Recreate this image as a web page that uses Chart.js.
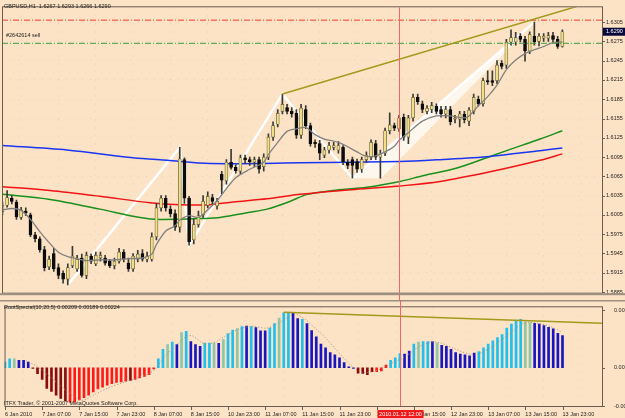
<!DOCTYPE html>
<html>
<head>
<meta charset="utf-8">
<script src="https://cdn.jsdelivr.net/npm/chart.js@4.4.0/dist/chart.umd.min.js"></script>
<style>
html, body { margin: 0; padding: 0; background: #fce3c5; }
#wrap { position: relative; width: 625px; height: 418px; overflow: hidden; background: #fce3c5; }
#main { position: absolute; left: 0; top: 0; }
#osc { position: absolute; left: 0; top: 300px; }
</style>
</head>
<body>
<div id="wrap">
  <canvas id="main" width="625" height="300"></canvas>
  <canvas id="osc" width="625" height="118"></canvas>
</div>
<script>
// GBPUSD H1, one bar per hour, bar 0 = 6 Jan 2010 23:00
const timeLabels = ['6 Jan 2010', '7 Jan 07:00', '7 Jan 15:00', '7 Jan 23:00', '8 Jan 07:00', '8 Jan 15:00',
  '10 Jan 23:00', '11 Jan 07:00', '11 Jan 15:00', '11 Jan 23:00', '12 Jan 07:00', '12 Jan 15:00',
  '12 Jan 23:00', '13 Jan 07:00', '13 Jan 15:00', '13 Jan 23:00'];
const priceTicks = [1.5885, 1.5915, 1.5945, 1.5975, 1.6005, 1.6035, 1.6065, 1.6095, 1.6125,
  1.6155, 1.6185, 1.6215, 1.6245, 1.6275, 1.6305];
const oscTicks = [-0.00249, 0, 0.00375];

const open = [1.6010,1.6020,1.6031,1.6025,1.6001,1.6011,1.6005,1.5974,1.5968,1.5951,
  1.5924,1.5945,1.5923,1.5914,1.5905,1.5926,1.5921,1.5938,1.5911,1.5941,
  1.5929,1.5938,1.5938,1.5933,1.5926,1.5933,1.5947,1.5930,1.5921,1.5936,
  1.5945,1.5936,1.5936,1.5971,1.6016,1.6031,1.6014,1.6007,1.5986,1.6091,
  1.6031,1.5966,1.5990,1.6005,1.6020,1.6032,1.6019,1.6068,1.6058,1.6087,
  1.6079,1.6073,1.6094,1.6091,1.6087,1.6091,1.6080,1.6095,1.6126,1.6146,
  1.6166,1.6172,1.6166,1.6163,1.6129,1.6169,1.6144,1.6118,1.6116,1.6098,
  1.6106,1.6110,1.6106,1.6110,1.6087,1.6091,1.6088,1.6076,1.6091,1.6095,
  1.6116,1.6095,1.6101,1.6136,1.6144,1.6139,1.6157,1.6126,1.6156,1.6188,
  1.6178,1.6166,1.6169,1.6174,1.6169,1.6162,1.6169,1.6154,1.6154,1.6162,
  1.6151,1.6166,1.6185,1.6178,1.6214,1.6214,1.6214,1.6241,1.6238,1.6274,
  1.6274,1.6283,1.6278,1.6260,1.6283,1.6275,1.6280,1.6280,1.6284,1.6278,
  1.6267];
const high = [1.6025,1.6043,1.6035,1.6028,1.6017,1.6016,1.6008,1.5978,1.5971,1.5956,
  1.5941,1.5953,1.5929,1.5918,1.5929,1.5956,1.5942,1.5944,1.5947,1.5944,
  1.5947,1.5947,1.5942,1.5936,1.5938,1.5953,1.5951,1.5938,1.5945,1.5950,
  1.5951,1.5947,1.5977,1.6023,1.6035,1.6035,1.6019,1.6013,1.6110,1.6094,
  1.6034,1.5998,1.6011,1.6035,1.6041,1.6037,1.6031,1.6073,1.6091,1.6107,
  1.6083,1.6098,1.6098,1.6095,1.6095,1.6095,1.6100,1.6131,1.6150,1.6169,
  1.6193,1.6177,1.6172,1.6169,1.6177,1.6175,1.6148,1.6122,1.6121,1.6110,
  1.6118,1.6118,1.6119,1.6113,1.6091,1.6095,1.6092,1.6095,1.6103,1.6122,
  1.6121,1.6106,1.6140,1.6164,1.6148,1.6160,1.6162,1.6160,1.6193,1.6193,
  1.6182,1.6175,1.6180,1.6178,1.6174,1.6174,1.6174,1.6160,1.6166,1.6166,
  1.6172,1.6193,1.6190,1.6218,1.6229,1.6229,1.6245,1.6245,1.6278,1.6293,
  1.6289,1.6287,1.6283,1.6290,1.6305,1.6287,1.6287,1.6289,1.6289,1.6283,
  1.6293];
const low = [1.6005,1.6017,1.6022,1.5998,1.5998,1.6004,1.5971,1.5963,1.5947,1.5918,
  1.5920,1.5917,1.5906,1.5899,1.5896,1.5923,1.5917,1.5908,1.5906,1.5929,
  1.5926,1.5933,1.5927,1.5923,1.5921,1.5930,1.5932,1.5917,1.5917,1.5932,
  1.5933,1.5932,1.5933,1.5966,1.6011,1.6011,1.6002,1.5981,1.5978,1.6023,
  1.5958,1.5960,1.5986,1.6001,1.6016,1.6022,1.6014,1.6038,1.6053,1.6076,
  1.6070,1.6068,1.6085,1.6082,1.6080,1.6070,1.6073,1.6091,1.6121,1.6142,
  1.6162,1.6162,1.6157,1.6124,1.6124,1.6139,1.6112,1.6110,1.6091,1.6094,
  1.6101,1.6106,1.6101,1.6083,1.6077,1.6062,1.6071,1.6071,1.6087,1.6091,
  1.6091,1.6062,1.6097,1.6131,1.6136,1.6135,1.6121,1.6116,1.6151,1.6177,
  1.6164,1.6162,1.6164,1.6162,1.6157,1.6156,1.6145,1.6148,1.6142,1.6148,
  1.6144,1.6162,1.6174,1.6174,1.6208,1.6206,1.6209,1.6232,1.6233,1.6269,
  1.6269,1.6274,1.6244,1.6256,1.6269,1.6268,1.6275,1.6275,1.6274,1.6264,
  1.6266];
const close = [1.6020,1.6032,1.6026,1.6002,1.6013,1.6008,1.5974,1.5968,1.5951,1.5923,
  1.5936,1.5921,1.5911,1.5905,1.5923,1.5941,1.5936,1.5911,1.5942,1.5933,
  1.5942,1.5942,1.5930,1.5926,1.5933,1.5947,1.5936,1.5921,1.5941,1.5944,
  1.5936,1.5941,1.5971,1.6016,1.6031,1.6016,1.6007,1.5986,1.6092,1.6031,
  1.5963,1.5990,1.6004,1.6026,1.6034,1.6026,1.6026,1.6059,1.6087,1.6079,
  1.6074,1.6094,1.6091,1.6088,1.6091,1.6076,1.6095,1.6126,1.6144,1.6163,
  1.6177,1.6166,1.6162,1.6129,1.6171,1.6144,1.6116,1.6116,1.6101,1.6106,
  1.6113,1.6113,1.6113,1.6088,1.6082,1.6082,1.6076,1.6091,1.6098,1.6118,
  1.6095,1.6101,1.6136,1.6145,1.6140,1.6156,1.6126,1.6156,1.6188,1.6181,
  1.6169,1.6171,1.6175,1.6166,1.6162,1.6169,1.6150,1.6156,1.6162,1.6153,
  1.6168,1.6188,1.6178,1.6214,1.6212,1.6211,1.6238,1.6236,1.6274,1.6281,
  1.6281,1.6278,1.6260,1.6286,1.6274,1.6283,1.6283,1.6284,1.6278,1.6267,
  1.6290];

// moving averages as [bar, price]
const maFast = [[0,1.6013],[2,1.6015],[4,1.6012],[6,1.5998],[8,1.5979],[10,1.5962],[12,1.5947],[14,1.5940],
  [16,1.5937],[18,1.5934],[21,1.5935],[24,1.5935],[27,1.5937],[30,1.5938],[32,1.5944],[33,1.5959],
  [35,1.5980],[37,1.5988],[38,1.5997],[40,1.6004],[42,1.6001],[44,1.6013],[46,1.6027],[48,1.6046],
  [50,1.6063],[53,1.6076],[56,1.6087],[57,1.6099],[59,1.6118],[61,1.6135],[63,1.6139],[65,1.6141],
  [67,1.6130],[69,1.6123],[72,1.6118],[74,1.6111],[76,1.6103],[78,1.6096],[80,1.6097],[82,1.6103],
  [84,1.6112],[85,1.6121],[87,1.6133],[90,1.6151],[93,1.6159],[96,1.6159],[99,1.6156],[100,1.6159],
  [102,1.6175],[104,1.6189],[106,1.6207],[108,1.6231],[110,1.6246],[112,1.6256],[114,1.6262],
  [116,1.6267],[118,1.6273],[120,1.6274]];
const maBlue = [[0,1.6113],[13.8,1.6106],[28,1.6094],[35.3,1.6090],[44.5,1.6085],[63.8,1.6086],
  [85.2,1.6088],[93.8,1.6091],[104.5,1.6096],[115.2,1.6105],[120,1.6109]];
const maRed = [[0,1.6049],[10.2,1.6043],[20.9,1.6034],[31.6,1.6024],[38,1.6021],[44.5,1.6021],
  [49.4,1.6025],[56.7,1.6030],[63.8,1.6037],[70.8,1.6042],[78.1,1.6046],[85.2,1.6050],[93.8,1.6057],
  [104.5,1.6072],[115.2,1.6090],[120,1.6100]];
const maGreen = [[0,1.6037],[10.2,1.6029],[20.9,1.6014],[29.5,1.6001],[33.8,1.5998],[44.5,1.6000],
  [46.6,1.6001],[53,1.6009],[56.7,1.6014],[61.6,1.6026],[65.3,1.6037],[70.8,1.6043],[78.1,1.6048],
  [85.2,1.6057],[90.1,1.6066],[97.4,1.6078],[104.5,1.6096],[111.6,1.6114],[115.2,1.6123],[120,1.6136]];
const zigzag = [[14,1.5896],[38,1.6110],[40,1.5958],[60,1.6193],[75,1.6062],[114,1.6305]];
const zigzagWedge = [[75,1.6062],[114,1.6305],[81,1.6062]];
const trendMain = [[60,1.6193],[128.5,1.6341]];
const stopLevel = 1.6308;
const entryLevel = 1.6272;

// RootSpecial(10,20,5) histogram, c = up strong, t = up weak, b = falling, r / m = below zero
const hist = [0.00037,0.00058,0.00058,0.00048,0.00048,0.00037,-0.00004,-0.00039,-0.00076,-0.00134,
  -0.00154,-0.00179,-0.00200,-0.00216,-0.00224,-0.00224,-0.00210,-0.00195,-0.00179,-0.00158,
  -0.00138,-0.00127,-0.00113,-0.00103,-0.00096,-0.00093,-0.00087,-0.00082,-0.00076,-0.00066,
  -0.00056,-0.00045,-0.00008,0.00058,0.00120,0.00151,0.00167,0.00151,0.00229,0.00237,
  0.00171,0.00151,0.00140,0.00161,0.00161,0.00161,0.00159,0.00183,0.00222,0.00245,
  0.00255,0.00268,0.00271,0.00268,0.00262,0.00241,0.00241,0.00258,0.00288,0.00324,
  0.00358,0.00358,0.00357,0.00320,0.00316,0.00288,0.00242,0.00201,0.00155,0.00130,
  0.00099,0.00085,0.00064,0.00033,0.00006,-0.00004,-0.00035,-0.00037,-0.00045,-0.00025,
  -0.00025,-0.00020,0.00017,0.00048,0.00064,0.00093,0.00089,0.00109,0.00155,0.00167,
  0.00171,0.00171,0.00171,0.00161,0.00146,0.00140,0.00120,0.00099,0.00089,0.00085,
  0.00078,0.00095,0.00105,0.00130,0.00155,0.00176,0.00196,0.00216,0.00258,0.00284,
  0.00305,0.00315,0.00299,0.00295,0.00290,0.00284,0.00274,0.00264,0.00253,0.00224,
  0.00209];
const histState = ('cctbbbmmmmmmmmrrrrrrrrrrrrrmrrrrr' +
  'cctcbtcbbbcctbtcctcbcbbbcctccbbcbbbbbbbbbbbmmmmrrr' +
  'cccbbctccbtbbbbbbbbccccccccccttbbbbbbbbb').split('');
const signal = [[4.5,0.00046],[6.6,0.00015],[8.8,-0.00037],[11.6,-0.00109],[14.5,-0.00181],[16.6,-0.00212],
  [19.5,-0.00171],[22.3,-0.00130],[25.2,-0.00099],[28,-0.00072],[30.9,-0.00037],[32.3,-0.00010],
  [34.5,0.00077],[36.6,0.00138],[38.8,0.00200],[40.2,0.00210],[42.3,0.00165],[43.4,0.00155],
  [45.5,0.00171],[47.7,0.00212],[50.5,0.00253],[53.4,0.00270],[56.3,0.00258],[58.4,0.00284],
  [61.3,0.00336],[62.7,0.00346],[64.8,0.00311],[66.9,0.00253],[69.1,0.00192],[71.2,0.00120],
  [73.4,0.00048],[74.8,0.00006],[76.9,-0.00031],[79.1,-0.00025],[81.2,-0.00004],[83.2,0.00030],
  [85.9,0.00068],[88.8,0.00130],[91.6,0.00167],[93.8,0.00161],[96.6,0.00126],[99.5,0.00093],
  [101.6,0.00089],[104.5,0.00130],[107.3,0.00192],[110.2,0.00264],[112.3,0.00295],[114.5,0.00290],
  [117.3,0.00270],[119.8,0.00233]];
const trendOsc = [[60,0.00361],[128.5,0.00290]];
const markerBar = 85; // 2010.01.12 12:00

const xMin = -0.1, xMax = 128.5;
const last = close.length - 1;
Chart.defaults.font.family = '"Liberation Sans", Arial, sans-serif';
Chart.defaults.font.size = 5.5;
Chart.defaults.color = '#1e1e1e';

const bgDots = { color: 'rgba(165,135,105,0.2)', drawTicks: false };
const pts = arr => arr.map(p => ({ x: p[0], y: p[1] }));
const line = (arr, color, width, order, extra) => Object.assign({
  type: 'line', data: pts(arr), borderColor: color, borderWidth: width,
  pointRadius: 0, tension: 0.3, fill: false, order: order
}, extra || {});
const isBull = close.map((c, i) => c >= open[i]);

const mainDecor = {
  id: 'mainDecor',
  afterDraw(chart) {
    const { ctx, chartArea: a, scales: { x, y } } = chart;
    ctx.save();
    ctx.strokeStyle = '#6b5d52';
    ctx.lineWidth = 1;
    ctx.strokeRect(a.left + 0.5, a.top - 0.5, a.right - a.left, a.bottom - a.top + 1);
    priceTicks.forEach(v => {
      const py = Math.round(y.getPixelForValue(v)) + 0.5;
      ctx.beginPath(); ctx.moveTo(a.right, py); ctx.lineTo(a.right + 3, py); ctx.stroke();
    });
    const mx = Math.round(x.getPixelForValue(markerBar)) + 0.5;
    ctx.strokeStyle = '#f06666';
    ctx.beginPath(); ctx.moveTo(mx, a.top); ctx.lineTo(mx, chart.height); ctx.stroke();
    ctx.fillStyle = '#9d8f82';
    ctx.fillRect(0, a.bottom + 0.5, chart.width, 2);
    ctx.font = '5.5px "Liberation Sans", Arial';
    ctx.textBaseline = 'middle';
    ctx.fillStyle = '#1a1a1a';
    const f = v => v.toFixed(4);
    ctx.fillText('GBPUSD,H1  ' + [open[last], high[last], low[last], close[last]].map(f).join(' '), 4, 6);
    ctx.fillText('#2642614 sell', 6, 35);
    const cy = y.getPixelForValue(close[last]);
    ctx.fillStyle = '#08083a';
    ctx.fillRect(a.right + 1, cy - 4, chart.width - a.right - 1, 8);
    ctx.fillStyle = '#ffffff';
    ctx.fillText(f(close[last]), a.right + 4, cy);
    ctx.restore();
  }
};

new Chart(document.getElementById('main'), {
  type: 'bar',
  data: {
    datasets: [
      line(trendMain, '#a29a1c', 1.5, 0, { tension: 0 }),
      line([[xMin, stopLevel], [xMax, stopLevel]], '#f03a2a', 1, 0, { tension: 0, borderDash: [6, 2, 1, 2] }),
      line([[xMin, entryLevel], [xMax, entryLevel]], '#3c9c3c', 1, 0, { tension: 0, borderDash: [6, 2, 1, 2] }),
      line(maFast, '#808080', 1.3, 1),
      {
        type: 'bar', order: 2, grouped: false, barThickness: 3, minBarLength: 1,
        data: open.map((o, i) => ({ x: i, y: [o, close[i]] })),
        backgroundColor: isBull.map(b => b ? '#f0df86' : '#0c0c0c'),
        borderColor: isBull.map(b => b ? '#5e5838' : '#0c0c0c'),
        borderWidth: 0.7, borderSkipped: false
      },
      {
        type: 'bar', order: 3, grouped: false, barThickness: 1,
        data: high.map((h, i) => ({ x: i, y: [low[i], h] })),
        backgroundColor: '#3a3a32'
      },
      line(maBlue, '#1a36f0', 1.5, 4),
      line(maRed, '#f01414', 1.5, 4),
      line(maGreen, '#18901c', 1.5, 4),
      line(zigzagWedge, 'rgba(255,255,255,0.8)', 1, 5, { tension: 0, fill: 'shape', backgroundColor: 'rgba(255,255,255,0.7)' }),
      line(zigzag, '#ffffff', 2.5, 5, { tension: 0 })
    ]
  },
  options: {
    responsive: false,
    animation: false,
    layout: { padding: { left: 2, top: 2, right: 0, bottom: 2 } },
    plugins: { legend: { display: false }, tooltip: { enabled: false } },
    scales: {
      x: {
        type: 'linear', min: xMin, max: xMax, offset: false,
        afterBuildTicks: s => { s.ticks = timeLabels.map((_, k) => ({ value: 8 * k })); },
        afterFit: s => { s.height = 0; },
        ticks: { display: false },
        grid: bgDots,
        border: { display: false, dash: [1, 7] }
      },
      y: {
        position: 'right', min: 1.5884, max: 1.6328,
        afterBuildTicks: s => { s.ticks = priceTicks.map(v => ({ value: v })); },
        afterFit: s => { s.width = 23; },
        ticks: { padding: 4, callback: v => v.toFixed(4) },
        grid: bgDots,
        border: { display: false, dash: [1, 7] }
      }
    }
  },
  plugins: [mainDecor]
});

const stateColors = { c: '#1ec0f0', t: '#8ec6a6', b: '#1616c4', r: '#ff1a1a', m: '#8a0c0c' };

const oscDecor = {
  id: 'oscDecor',
  afterDraw(chart) {
    const { ctx, chartArea: a, scales: { x, y } } = chart;
    ctx.save();
    ctx.fillStyle = '#9d8f82';
    ctx.fillRect(0, 0, chart.width, 1.5);
    ctx.strokeStyle = '#6b5d52';
    ctx.lineWidth = 1;
    ctx.strokeRect(a.left + 0.5, a.top - 0.5, a.right - a.left, a.bottom - a.top + 1);
    timeLabels.forEach((_, k) => {
      const px = Math.round(x.getPixelForValue(8 * k)) + 0.5;
      ctx.beginPath(); ctx.moveTo(px, a.bottom); ctx.lineTo(px, a.bottom + 4); ctx.stroke();
    });
    oscTicks.forEach(v => {
      const py = Math.round(y.getPixelForValue(v)) + 0.5;
      ctx.beginPath(); ctx.moveTo(a.right, py); ctx.lineTo(a.right + 3, py); ctx.stroke();
    });
    const mx = Math.round(x.getPixelForValue(markerBar)) + 0.5;
    ctx.strokeStyle = '#f06666';
    ctx.beginPath(); ctx.moveTo(mx, 0); ctx.lineTo(mx, a.bottom); ctx.stroke();
    ctx.font = '5.5px "Liberation Sans", Arial';
    ctx.textBaseline = 'middle';
    ctx.fillStyle = '#1a1a1a';
    ctx.fillText('RootSpecial(10,20,5) 0.00209 0.00189 0.00224', 4, 7.5);
    ctx.fillText('ITFX Trader, \u00a9 2001-2007 MetaQuotes Software Corp.', 4, 103);
    ctx.fillStyle = '#f01818';
    ctx.fillRect(mx - 23, a.bottom + 4, 46, 8);
    ctx.fillStyle = '#ffffff';
    ctx.textAlign = 'center';
    ctx.fillText('2010.01.12 12:00', mx, a.bottom + 8);
    ctx.restore();
  }
};

new Chart(document.getElementById('osc'), {
  type: 'bar',
  data: {
    datasets: [
      line(trendOsc, '#a29a1c', 1.5, 0, { tension: 0 }),
      line(signal, '#a09080', 1, 1, { borderDash: [1, 2] }),
      {
        type: 'bar', order: 2, grouped: false, barThickness: 2,
        data: hist.map((v, i) => ({ x: i, y: v })),
        backgroundColor: histState.map(s => stateColors[s])
      }
    ]
  },
  options: {
    responsive: false,
    animation: false,
    layout: { padding: { left: 2, top: 2, right: 0, bottom: 0 } },
    plugins: { legend: { display: false }, tooltip: { enabled: false } },
    scales: {
      x: {
        type: 'linear', min: xMin, max: xMax, offset: false,
        afterBuildTicks: s => { s.ticks = timeLabels.map((_, k) => ({ value: 8 * k })); },
        afterFit: s => { s.height = 12; },
        ticks: { align: 'start', padding: 5, maxRotation: 0, autoSkip: false, callback: (v, k) => timeLabels[k] },
        grid: bgDots,
        border: { display: false, dash: [1, 7] }
      },
      y: {
        position: 'right', min: -0.00249, max: 0.003937,
        afterBuildTicks: s => { s.ticks = oscTicks.map(v => ({ value: v })); },
        afterFit: s => { s.width = 23; },
        ticks: { padding: 4, callback: v => v === 0 ? '0.00' : v.toFixed(5) },
        grid: { display: false },
        border: { display: false }
      }
    }
  },
  plugins: [oscDecor]
});
</script>
</body>
</html>
